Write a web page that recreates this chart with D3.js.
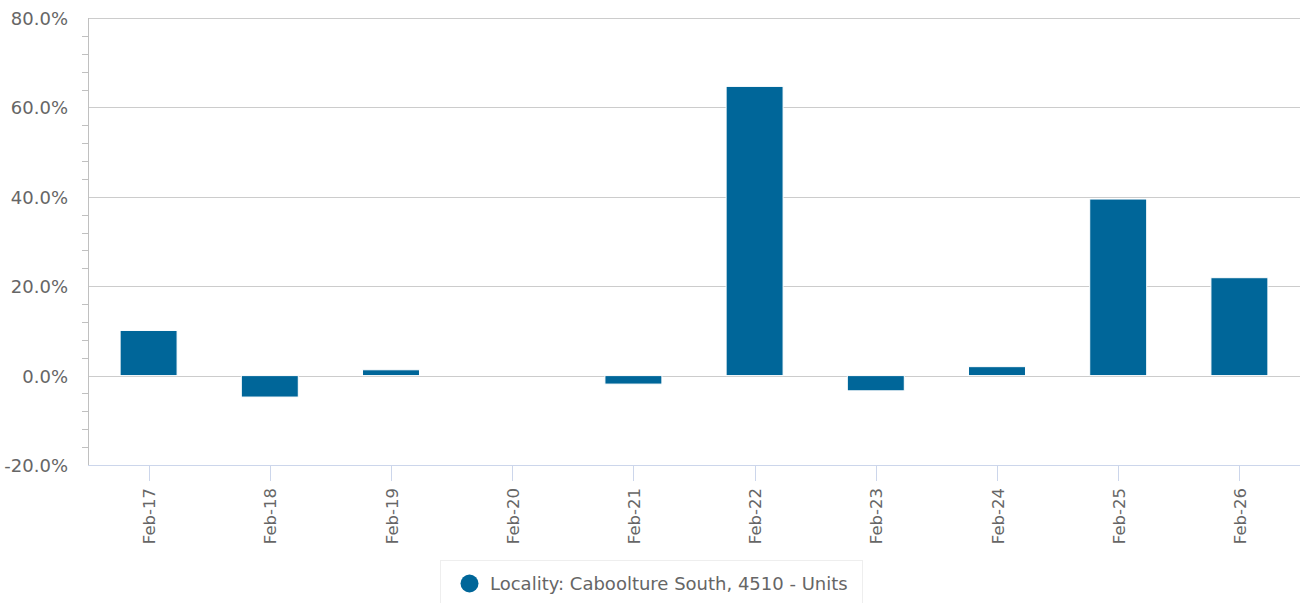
<!DOCTYPE html>
<html><head><meta charset="utf-8">
<script src="https://cdn.jsdelivr.net/npm/d3@7/dist/d3.min.js"></script>
<style>body{margin:0;background:#fff;}svg{display:block;font-family:"DejaVu Sans",sans-serif;}</style>
</head><body>
<svg id="c" width="1304" height="603"></svg>
<script>
const categories = ["Feb-17","Feb-18","Feb-19","Feb-20","Feb-21","Feb-22","Feb-23","Feb-24","Feb-25","Feb-26"];
const values = [10.1, -4.8, 1.3, 0.0, -1.9, 64.7, -3.4, 2.0, 39.5, 21.9];
const yTicks = [-20, 0, 20, 40, 60, 80];
const seriesName = "Locality: Caboolture South, 4510 - Units";

const svg = d3.select("#c");
const L = 88, R = 1300, T = 18, B = 465;
const x = d3.scaleBand().domain(categories).range([L, R]).paddingInner(0.53).paddingOuter(0.265);
const y = d3.scaleLinear().domain([-20, 80]).range([B, T]);

// grid
svg.append("g").selectAll("line").data(yTicks).join("line")
  .attr("x1", L).attr("x2", R).attr("y1", d => Math.round(y(d)) + 0.5).attr("y2", d => Math.round(y(d)) + 0.5)
  .attr("stroke", "#cccccc").attr("stroke-width", 1);

// minor ticks
const minor = d3.range(-20, 80.01, 4).filter(v => !yTicks.includes(v));
svg.append("g").selectAll("line").data(minor).join("line")
  .attr("x1", L - 6).attr("x2", L).attr("y1", d => Math.round(y(d)) + 0.5).attr("y2", d => Math.round(y(d)) + 0.5)
  .attr("stroke", "#c0c0c0");
// y axis line
svg.append("line").attr("x1", L + 0.5).attr("x2", L + 0.5).attr("y1", T).attr("y2", B).attr("stroke", "#c0c0c0");

// y labels
svg.append("g").selectAll("text").data(yTicks).join("text")
  .attr("x", 68).attr("y", d => y(d) + 7).attr("text-anchor", "end")
  .attr("fill", "#666").style("font-size", "18px").text(d => d.toFixed(1) + "%");

// bars
svg.append("g").selectAll("rect").data(values).join("rect")
  .attr("x", (d, i) => x(categories[i]))
  .attr("width", x.bandwidth())
  .attr("y", d => y(Math.max(0, d)))
  .attr("height", d => Math.abs(y(d) - y(0)))
  .attr("fill", "#006699").attr("stroke", "#ffffff").attr("stroke-width", 1);

// x axis line & ticks
svg.append("line").attr("x1", L).attr("x2", R).attr("y1", B + 0.5).attr("y2", B + 0.5).attr("stroke", "#ccd6eb");
svg.append("g").selectAll("line").data(categories).join("line")
  .attr("x1", d => Math.round(x(d) + x.bandwidth() / 2) + 0.5).attr("x2", d => Math.round(x(d) + x.bandwidth() / 2) + 0.5)
  .attr("y1", B).attr("y2", B + 16).attr("stroke", "#ccd6eb");
svg.append("g").selectAll("text").data(categories).join("text")
  .attr("transform", d => `translate(${x(d) + x.bandwidth() / 2 + 6.5},${B + 23}) rotate(-90)`)
  .attr("text-anchor", "end").attr("fill", "#666").style("font-size", "16.5px").text(d => d);

// legend
const lg = svg.append("g");
lg.append("rect").attr("x", 440.5).attr("y", 560.5).attr("width", 422).attr("height", 60)
  .attr("fill", "#fff").attr("stroke", "#eeeeee");
lg.append("circle").attr("cx", 469.5).attr("cy", 583.5).attr("r", 9).attr("fill", "#006699");
lg.append("text").attr("x", 490).attr("y", 590).attr("fill", "#666").style("font-size", "18px").text(seriesName);
</script>
</body></html>
